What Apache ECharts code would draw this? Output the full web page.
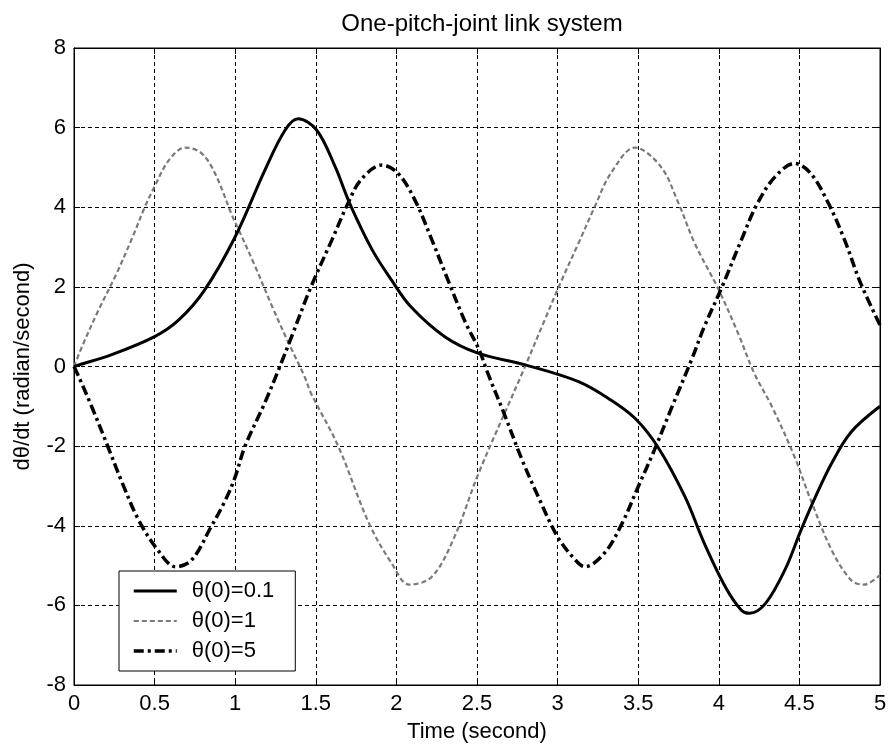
<!DOCTYPE html>
<html>
<head>
<meta charset="utf-8">
<script src="https://cdn.jsdelivr.net/npm/echarts@6/dist/echarts.min.js"></script>
<style>
html,body{margin:0;padding:0;background:#fff;}
#chart{width:890px;height:753px;}
</style>
</head>
<body>
<div id="chart"></div>
<script>
// theta(0)=0.1
var tA = [0,0.03,0.23,0.5,0.65,0.81,1.0,1.185,1.31,1.39,1.505,1.62,1.71,1.85,1.97,2.09,2.3,2.51,2.8,3.13,3.33,3.48,3.62,3.79,3.91,4.04,4.14,4.19,4.29,4.41,4.51,4.6,4.7,4.82,5.0];
var vA = [0,0.04,0.29,0.75,1.17,1.92,3.26,4.94,5.94,6.22,5.94,5.02,4.1,2.93,2.17,1.5,0.75,0.33,0.04,-0.38,-0.84,-1.3,-2.01,-3.27,-4.44,-5.53,-6.12,-6.2,-5.95,-5.11,-4.11,-3.27,-2.43,-1.65,-1.0];
// theta(0)=1
var tB = [0,0.05,0.15,0.26,0.36,0.44,0.5,0.59,0.69,0.79,0.875,0.98,1.02,1.12,1.23,1.33,1.43,1.47,1.64,1.83,1.97,2.08,2.22,2.36,2.51,2.78,2.92,3.02,3.13,3.23,3.33,3.48,3.64,3.75,3.85,4.0,4.12,4.22,4.33,4.47,4.57,4.7,4.82,4.9,5.0];
var vB = [0,0.5,1.4,2.3,3.22,4.01,4.52,5.19,5.5,5.36,4.85,3.8,3.45,2.55,1.5,0.6,-0.25,-0.67,-2.01,-3.94,-4.94,-5.48,-5.28,-4.28,-2.68,-0.17,1.17,2.12,3.1,4.01,4.85,5.5,5.02,4.1,3.1,1.92,0.83,-0.17,-1.01,-2.27,-3.35,-4.61,-5.36,-5.48,-5.24];
// theta(0)=5
var tC = [0,0.03,0.11,0.21,0.30,0.40,0.52,0.63,0.73,0.85,0.94,1.0,1.06,1.185,1.27,1.35,1.47,1.6,1.70,1.78,1.91,2.01,2.115,2.22,2.32,2.43,2.51,2.57,2.67,2.78,2.88,3.0,3.11,3.17,3.29,3.40,3.50,3.60,3.71,3.83,3.91,4.02,4.14,4.24,4.35,4.47,4.57,4.68,4.78,4.88,5.0];
var vC = [0,-0.26,-1.01,-2.01,-2.93,-3.85,-4.61,-5.03,-4.86,-4.03,-3.35,-2.77,-2.01,-0.9,-0.07,0.75,2.0,3.18,4.1,4.69,5.06,4.85,4.18,3.18,2.17,1.09,0.45,-0.2,-1.2,-2.35,-3.27,-4.28,-4.86,-5.03,-4.69,-3.94,-3.02,-2.1,-1.01,0.16,1.0,2.0,3.18,4.1,4.77,5.1,4.85,4.1,3.18,2.09,1.04];

var seriesNames = ['\u03b8(0)=0.1', '\u03b8(0)=1', '\u03b8(0)=5'];
var titleText = 'One-pitch-joint link system';
var xName = 'Time (second)';
var yName = 'd\u03b8/dt (radian/second)';

function zip(t, v) { return t.map(function (x, i) { return [x, v[i]]; }); }

var FONT = '"Liberation Sans", Arial, sans-serif';
var chart = echarts.init(document.getElementById('chart'), null, {renderer: 'canvas'});

var tickStyle = {inside: true, length: 6, lineStyle: {color: '#000', width: 1}};
var option = {
  backgroundColor: '#fff',
  animation: false,
  title: {
    text: titleText, left: 477, top: 7, textAlign: 'center',
    textStyle: {fontFamily: FONT, fontSize: 24, fontWeight: 'normal', color: '#000'}
  },
  grid: {left: 74, right: 10, top: 48, bottom: 68, show: true, borderColor: '#000', borderWidth: 1, backgroundColor: 'transparent'},
  legend: {
    orient: 'vertical', left: 119, top: 571,
    padding: [9, 21, 9, 13], itemGap: 8, itemWidth: 43, itemHeight: 14,
    backgroundColor: '#fff', borderColor: '#000', borderWidth: 1, borderRadius: 0,
    itemStyle: {color: 'transparent', borderColor: 'transparent', borderWidth: 0},
    textStyle: {fontFamily: FONT, fontSize: 22, color: '#000', padding: [0, 0, 0, 10]},
    data: [
      {name: seriesNames[0], lineStyle: {width: 3}},
      {name: seriesNames[1], lineStyle: {width: 2.2}},
      {name: seriesNames[2], lineStyle: {width: 3.5}}
    ]
  },
  xAxis: [{
    type: 'value', min: 0, max: 5, interval: 0.5,
    name: xName, nameLocation: 'middle', nameGap: 36,
    nameTextStyle: {fontFamily: FONT, fontSize: 22, color: '#000'},
    axisLine: {show: true, onZero: false, lineStyle: {color: '#000', width: 1}},
    axisTick: tickStyle,
    axisLabel: {fontFamily: FONT, fontSize: 22, color: '#000', margin: 8},
    splitLine: {show: true, lineStyle: {color: '#000', width: 1, type: [4, 3]}}
  }, {
    type: 'value', min: 0, max: 5, interval: 0.5, position: 'top',
    axisLine: {show: true, onZero: false, lineStyle: {color: '#000'}}, axisTick: tickStyle,
    axisLabel: {show: false}, splitLine: {show: false}
  }],
  yAxis: [{
    type: 'value', min: -8, max: 8, interval: 2,
    name: yName, nameLocation: 'middle', nameGap: 40, nameRotate: 90,
    nameTextStyle: {fontFamily: FONT, fontSize: 22, color: '#000'},
    axisLine: {show: true, onZero: false, lineStyle: {color: '#000', width: 1}},
    axisTick: tickStyle,
    axisLabel: {fontFamily: FONT, fontSize: 22, color: '#000', margin: 8},
    splitLine: {show: true, lineStyle: {color: '#000', width: 1, type: [4, 3]}}
  }, {
    type: 'value', min: -8, max: 8, interval: 2, position: 'right',
    axisLine: {show: true, onZero: false, lineStyle: {color: '#000'}}, axisTick: tickStyle,
    axisLabel: {show: false}, splitLine: {show: false}
  }],
  series: [{
    name: seriesNames[0], type: 'line', data: zip(tA, vA), showSymbol: false, symbol: 'none',
    smooth: 0.35, color: '#000', lineStyle: {color: '#000', width: 3, type: 'solid'}, z: 5
  }, {
    name: seriesNames[1], type: 'line', data: zip(tB, vB), showSymbol: false, symbol: 'none',
    smooth: 0.35, color: '#808080', lineStyle: {color: '#7a7a7a', width: 2.2, type: [5, 3]}, z: 4
  }, {
    name: seriesNames[2], type: 'line', data: zip(tC, vC), showSymbol: false, symbol: 'none',
    smooth: 0.35, color: '#000', lineStyle: {color: '#000', width: 3.5, type: [10, 4, 3, 4]}, z: 6
  }]
};
chart.setOption(option);
</script>
</body>
</html>
